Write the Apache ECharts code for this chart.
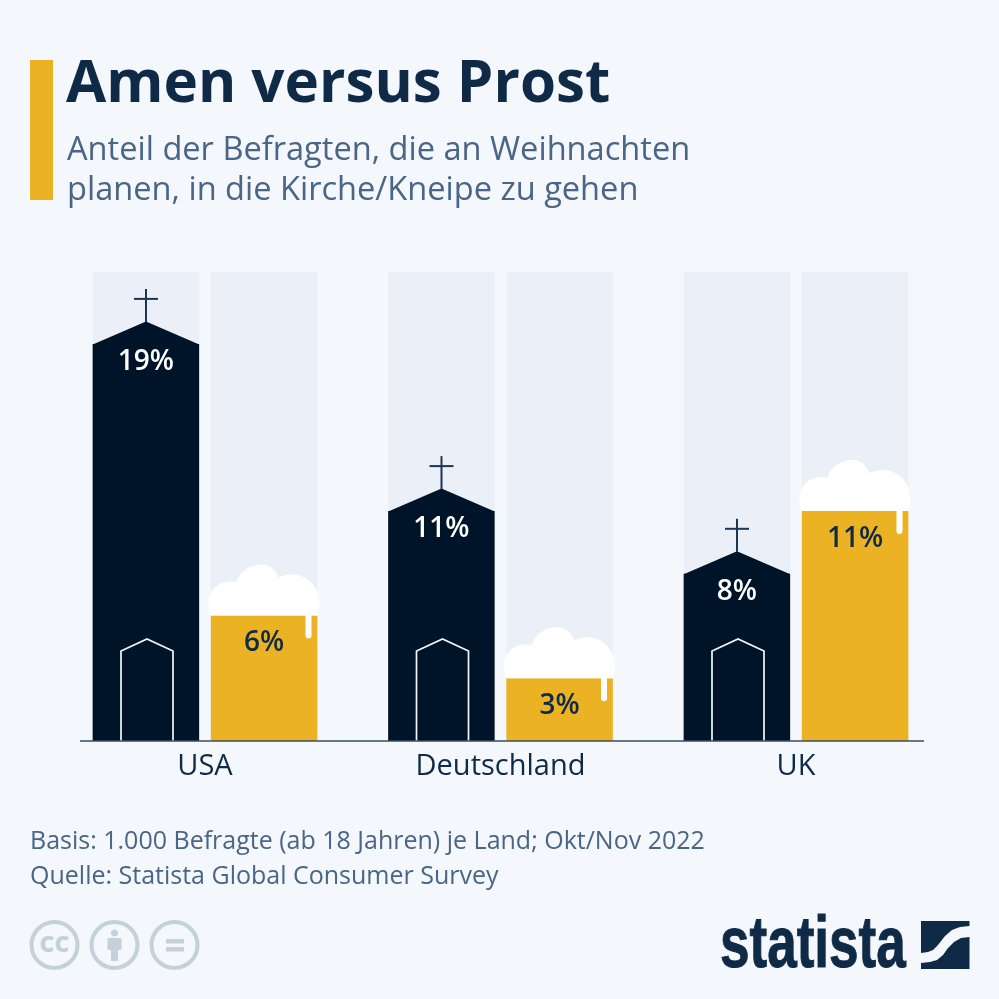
<!DOCTYPE html>
<html>
<head>
<meta charset="utf-8">
<style>
  html, body { margin: 0; padding: 0; background: #f4f7fb; }
  #chart { width: 999px; height: 999px; }
</style>
<script src="https://cdn.jsdelivr.net/npm/echarts@6/dist/echarts.min.js"></script>
</head>
<body>
<div id="chart"></div>
<script>
var categories = ['USA', 'Deutschland', 'UK'];
var kirche = [19, 11, 8];
var kneipe = [6, 3, 11];
var titleText = 'Amen versus Prost';
var subtitleText = 'Anteil der Befragten, die an Weihnachten\nplanen, in die Kirche/Kneipe zu gehen';
var footerText = 'Basis: 1.000 Befragte (ab 18 Jahren) je Land; Okt/Nov 2022\nQuelle: Statista Global Consumer Survey';

var navy = '#001429';
var gold = '#ebb323';
var ink = '#0f2a47';
var slate = '#4a6585';
var track = '#ebf0f8';
var iconGrey = '#c5d1da';
var font = '"Open Sans", "Noto Sans", sans-serif';

var barW = 106.5;
var barOffset = 59;
// Schaumkrone, 111 x 51 px
var foamPath = 'M2 51 C0 47 0 42 0 38 C0 26 10 17 22 17 C24 17 26 17 28 18 C31 7 41 0 53 0 C61 0 67 5 70 13 C74 11 79 10 84 10 C99 10 111 24 111 38 C111 43 110 47 109 51 Z';

function pairs(values) {
   return values.map(function (v, i) { return [i, v]; });
}

// Dach, Kreuz und Tuer auf dem Kirchen-Balken
function renderChurch(params, api) {
   var top = api.coord([api.value(0), api.value(1)]);
   var base = api.coord([api.value(0), 0]);
   var cx = top[0] - barOffset;
   var y = top[1];
   var door = base[1] - 102;
   return {
      type: 'group',
      children: [
         { type: 'polygon', shape: { points: [[cx - barW / 2, y + 0.5], [cx, y - 22.5], [cx + barW / 2, y + 0.5]] }, style: { fill: navy } },
         { type: 'line', shape: { x1: cx, y1: y - 55, x2: cx, y2: y - 22 }, style: { stroke: '#1d3552', lineWidth: 2 } },
         { type: 'line', shape: { x1: cx - 12, y1: y - 45, x2: cx + 12, y2: y - 45 }, style: { stroke: '#1d3552', lineWidth: 2 } },
         {
            type: 'polyline',
            shape: { points: [[cx - 25, base[1]], [cx - 25, door + 12], [cx + 1, door], [cx + 27, door + 12], [cx + 27, base[1]]] },
            style: { stroke: '#f4f7fb', lineWidth: 1.7, fill: null }
         }
      ]
   };
}

// Schaum und Tropfen auf dem Bier-Balken
function renderFoam(params, api) {
   var top = api.coord([api.value(0), api.value(1)]);
   var cx = top[0] + barOffset;
   var y = top[1];
   return {
      type: 'group',
      children: [
         { type: 'path', shape: { pathData: foamPath, x: cx - 55.5, y: y - 51, width: 111, height: 51, layout: 'cover' }, style: { fill: '#ffffff' } },
         { type: 'rect', shape: { x: cx + 41.5, y: y - 1, width: 6, height: 24, r: [0, 0, 3, 3] }, style: { fill: '#ffffff' } }
      ]
   };
}

var chart = echarts.init(document.getElementById('chart'));

var option = {
   animation: false,
   backgroundColor: '#f4f7fb',
   title: [
      { text: titleText, left: 66, top: 56, padding: 0, textStyle: { fontFamily: font, fontSize: 58.3, fontWeight: 700, color: ink } },
      { text: subtitleText, left: 67, top: 131, padding: 0, textStyle: { fontFamily: font, fontSize: 32.6, fontWeight: 400, color: slate, lineHeight: 40 } },
      { text: footerText, left: 30, top: 824, padding: 0, textStyle: { fontFamily: font, fontSize: 25, fontWeight: 400, color: slate, lineHeight: 35 } }
   ],
   grid: { left: 57.25, top: 272, width: 886.5, height: 469 },
   xAxis: {
      type: 'category',
      data: categories,
      axisLine: { show: false },
      axisTick: { show: false },
      axisLabel: { fontFamily: font, fontSize: 29, color: ink, margin: 11 }
   },
   yAxis: {
      type: 'value',
      min: 0,
      max: 22.44,
      show: false
   },
   series: [
      {
         name: 'Kirche',
         type: 'bar',
         data: kirche,
         barWidth: barW,
         barGap: '11%',
         itemStyle: { color: navy },
         showBackground: true,
         backgroundStyle: { color: track },
         label: { show: true, position: 'insideTop', distance: 4, formatter: '{c}%', fontFamily: font, fontSize: 28, fontWeight: 600, color: '#ffffff' }
      },
      {
         name: 'Kneipe',
         type: 'bar',
         data: kneipe,
         barWidth: barW,
         itemStyle: { color: gold },
         showBackground: true,
         backgroundStyle: { color: track },
         label: { show: true, position: 'insideTop', distance: 13.5, formatter: '{c}%', fontFamily: font, fontSize: 28, fontWeight: 600, color: ink }
      },
      {
         type: 'custom',
         renderItem: renderChurch,
         data: pairs(kirche),
         encode: { x: 0, y: 1 },
         z: 3,
         silent: true
      },
      {
         type: 'custom',
         renderItem: renderFoam,
         data: pairs(kneipe),
         encode: { x: 0, y: 1 },
         z: 3,
         silent: true
      }
   ],
   graphic: [
      { type: 'rect', shape: { x: 30, y: 60, width: 23, height: 140 }, style: { fill: gold } },
      { type: 'line', z: 10, shape: { x1: 80, y1: 741, x2: 924, y2: 741 }, style: { stroke: '#3a4e66', lineWidth: 1.5 } },
      // CC-Symbole
      { type: 'circle', shape: { cx: 54.5, cy: 945, r: 23 }, style: { stroke: iconGrey, lineWidth: 4, fill: null } },
      { type: 'text', x: 54.5, y: 945, style: { text: 'CC', fill: iconGrey, font: '800 23px "Open Sans"', align: 'center', verticalAlign: 'middle' } },
      { type: 'circle', shape: { cx: 114.5, cy: 945, r: 23 }, style: { stroke: iconGrey, lineWidth: 4, fill: null } },
      { type: 'circle', shape: { cx: 114.5, cy: 933, r: 3.5 }, style: { fill: iconGrey } },
      { type: 'rect', shape: { x: 107.5, y: 938, width: 14, height: 12, r: 1 }, style: { fill: iconGrey } },
      { type: 'rect', shape: { x: 111, y: 948, width: 7, height: 13 }, style: { fill: iconGrey } },
      { type: 'circle', shape: { cx: 174.5, cy: 945, r: 23 }, style: { stroke: iconGrey, lineWidth: 4, fill: null } },
      { type: 'rect', shape: { x: 166, y: 939, width: 18, height: 4.5 }, style: { fill: iconGrey } },
      { type: 'rect', shape: { x: 166, y: 947, width: 18, height: 4.5 }, style: { fill: iconGrey } },
      // Statista-Logo
      { type: 'text', x: 720, y: 983, scaleX: 0.737, style: { text: 'statista', fill: ink, stroke: ink, lineWidth: 1, font: '700 72px "Liberation Sans"', align: 'left', verticalAlign: 'bottom' } },
      { type: 'polygon', shape: { points: [[921, 921], [969.5, 921], [969.5, 926], [960, 927], [952, 930], [945, 936], [938, 945], [933, 950], [928, 952], [921, 953]] }, style: { fill: ink } },
      { type: 'polygon', shape: { points: [[969.5, 937], [961, 938], [954, 942], [948, 948], [943, 955], [937, 960], [930, 962], [921, 963], [921, 969], [969.5, 969]] }, style: { fill: ink } }
   ]
};

chart.setOption(option);
</script>
</body>
</html>
